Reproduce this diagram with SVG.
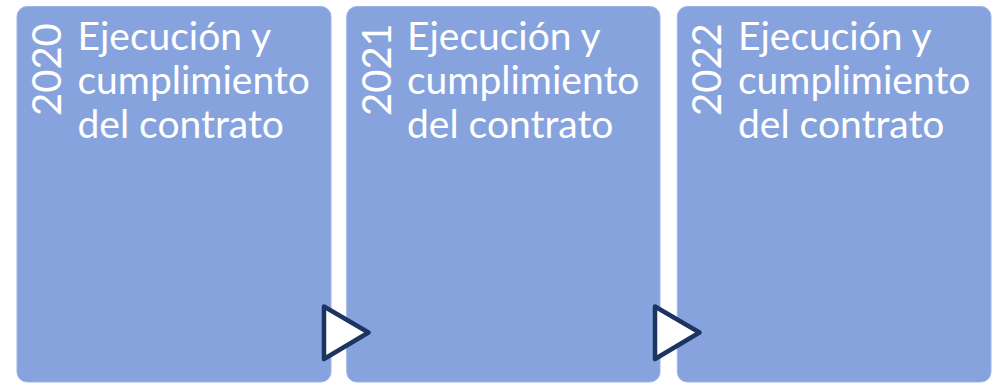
<svg xmlns="http://www.w3.org/2000/svg" width="995" height="383" viewBox="0 0 995 383">
<style>
.box{fill:#87a3de;stroke:#9db4e6;stroke-width:1}
.t{font-family:Lato,"Open Sans","Liberation Sans",sans-serif;font-size:39px;fill:#ffffff}
.yr{font-family:Lato,"Open Sans","Liberation Sans",sans-serif;font-size:40px;fill:#ffffff}
.arr{fill:#ffffff;stroke:#1d3461;stroke-width:4.5;stroke-linejoin:round}
</style>
<rect width="995" height="383" fill="#ffffff"/>
<g id="node-2020">
<rect class="box" x="17" y="6.5" width="314" height="375.5" rx="10" ry="10"/>
<text class="yr" transform="translate(61,116) rotate(-90)">2020</text>
<text class="t" x="77.5" y="50">Ejecución y</text>
<text class="t" x="77.5" y="94">cumplimiento</text>
<text class="t" x="77.5" y="138">del contrato</text>
</g>
<g id="node-2021">
<rect class="box" x="346.7" y="6.5" width="313.3" height="375.5" rx="10" ry="10"/>
<text class="yr" transform="translate(390.5,116) rotate(-90)">2021</text>
<text class="t" x="407" y="50">Ejecución y</text>
<text class="t" x="407" y="94">cumplimiento</text>
<text class="t" x="407" y="138">del contrato</text>
</g>
<g id="node-2022">
<rect class="box" x="677.3" y="6.5" width="313.7" height="375.5" rx="10" ry="10"/>
<text class="yr" transform="translate(721,116) rotate(-90)">2022</text>
<text class="t" x="738" y="50">Ejecución y</text>
<text class="t" x="738" y="94">cumplimiento</text>
<text class="t" x="738" y="138">del contrato</text>
</g>
<g id="connectors">
<polygon class="arr" points="324,306.5 368.5,332.5 324,359"/>
<polygon class="arr" points="655,306.5 699.5,332.5 655,359"/>
</g>
</svg>
